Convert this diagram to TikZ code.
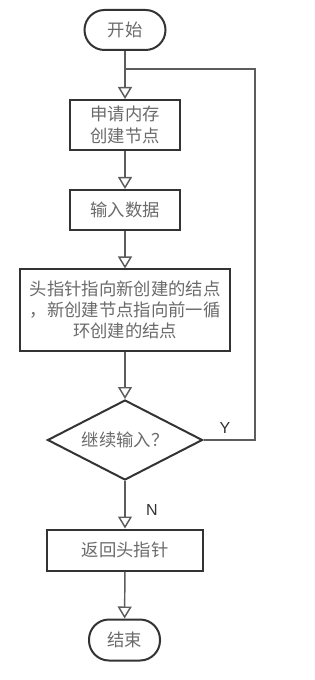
\documentclass[tikz,border=0pt]{standalone}
\usepackage{fontspec}
\setmainfont{Noto Sans CJK SC}
\newfontfamily\latinfont{Liberation Sans}
\usetikzlibrary{shapes.geometric,arrows.meta}
\definecolor{txtgray}{HTML}{6A6A6A}
\definecolor{linegray}{HTML}{5C5C5C}
\definecolor{boxline}{HTML}{333333}
\begin{document}
\begin{tikzpicture}[x=0.75pt,y=-0.75pt,
    every node/.style={text=txtgray,font=\fontsize{13}{16}\selectfont,inner sep=0pt,align=center},
    box/.style={draw=boxline,line width=1.5pt,rectangle},
    term/.style={box,rounded corners=15pt},
    decide/.style={draw=boxline,line width=1.5pt,diamond,aspect=1.94},
    flow/.style={draw=linegray,line width=1.1pt,-{Triangle[length=9pt,width=10.5pt,fill=white]}},
    yn/.style={text=black!80,font=\latinfont\fontsize{12}{14}\selectfont}]
    \useasboundingbox (0,0) rectangle (314,680);
    \node[term,minimum width=60.75pt,minimum height=30pt] (start) at (125,30) {开始};
    \node[box,minimum width=82.5pt,minimum height=37.5pt] (alloc) at (125,125) {申请内存\\创建节点};
    \node[box,minimum width=82.5pt,minimum height=30pt] (input) at (125,210) {输入数据};
    \node[box,minimum width=157.5pt,minimum height=60.75pt] (link) at (125,310)
      {头指针指向新创建的结点\\，新创建节点指向前一循\\环创建的结点};
    \node[decide,minimum width=116.25pt,minimum height=60pt] (more) at (125,440) {继续输入？};
    \node[box,minimum width=117pt,minimum height=30.75pt] (ret) at (125,550) {返回头指针};
    \node[term,minimum width=53.25pt,minimum height=30.75pt] (stop) at (124.5,640) {结束};
    \coordinate (join) at (125,69); \coordinate (back) at (255,69);
    \draw[flow] (start) -- (alloc); \draw[flow] (alloc) -- (input);
    \draw[flow] (input) -- (link); \draw[flow] (link) -- (more);
    \draw[flow] (more) -- (ret); \draw[flow] (ret) -- (stop);
    \draw[line width=0.9pt,draw=linegray] (more.east) -| (back) -- (join);
    \node[yn] (yes) at (225,428) {Y}; \node[yn] (no) at (152,510) {N};
  \end{tikzpicture}
\end{document}
